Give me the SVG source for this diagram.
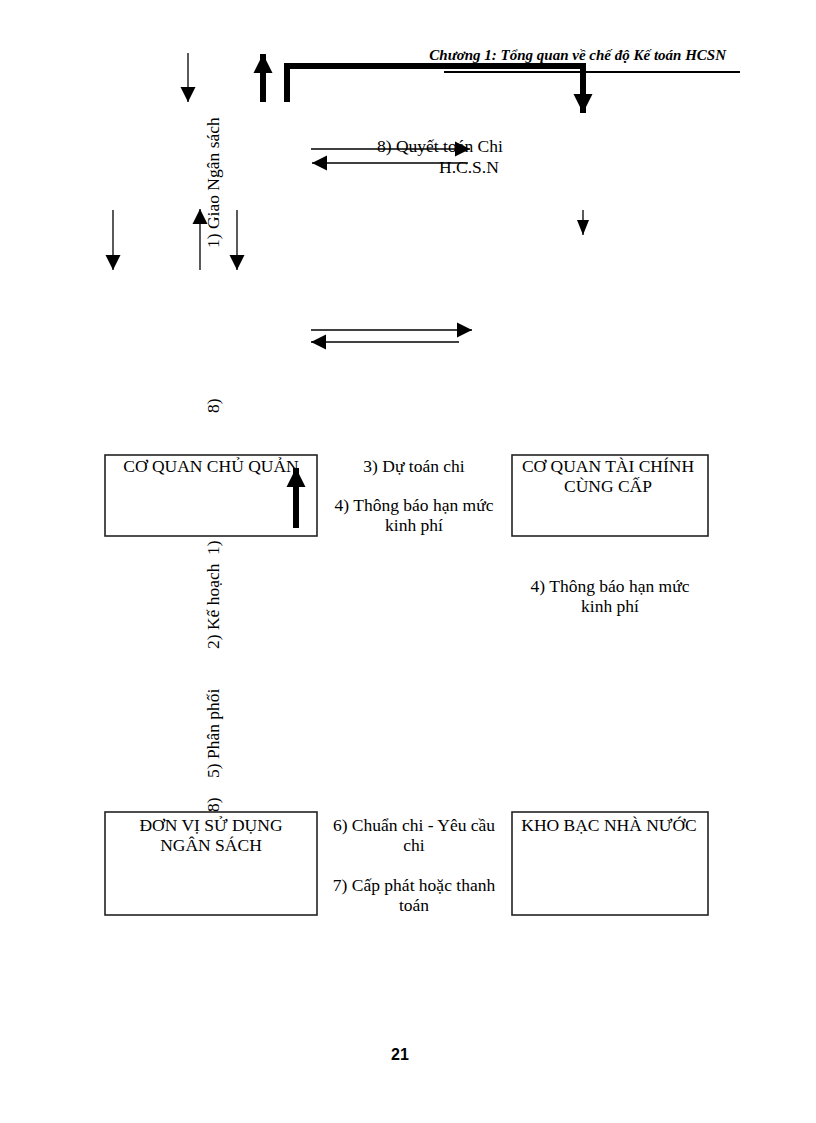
<svg xmlns="http://www.w3.org/2000/svg" width="816" height="1123" viewBox="0 0 816 1123">
<style>
.t{font-family:"Liberation Serif","Times New Roman",serif;font-size:17.5px;fill:#000}
.c{text-anchor:middle}
.hdr{font-family:"Liberation Serif","Times New Roman",serif;font-size:15px;font-weight:bold;font-style:italic;text-anchor:end}
.pg{font-family:"Liberation Sans",Arial,sans-serif;font-size:16px;font-weight:bold;text-anchor:middle}
.box{fill:#fff;stroke:#222;stroke-width:1.6}
.thin{fill:none;stroke:#000;stroke-width:1.3}
.thick{fill:none;stroke:#000;stroke-width:6}
</style>
<defs>
<marker id="ah" markerUnits="userSpaceOnUse" markerWidth="16" markerHeight="16" viewBox="0 0 16 16" refX="15" refY="8" orient="auto">
<path d="M0,0.5 L15,8 L0,15.5 Z" fill="#000"/>
</marker>
<marker id="ahs" markerUnits="userSpaceOnUse" markerWidth="16" markerHeight="14" viewBox="0 0 16 14" refX="15" refY="7" orient="auto">
<path d="M0,1 L15,7 L0,13 Z" fill="#000"/>
</marker>
<marker id="ahb" markerUnits="userSpaceOnUse" markerWidth="20" markerHeight="20" viewBox="0 0 20 20" refX="19" refY="10" orient="auto">
<path d="M0,0.5 L19,10 L0,19.5 Z" fill="#000"/>
</marker>
</defs>
<rect width="816" height="1123" fill="#fff"/>

<g id="header">
<text class="hdr" x="726" y="60">Chương 1: Tổng quan về chế độ Kế toán HCSN</text>
<line x1="444" y1="72" x2="740" y2="72" stroke="#000" stroke-width="2"/>
</g>

<g id="connectors">
<line class="thin" x1="188" y1="53" x2="188" y2="102" marker-end="url(#ah)"/>
<line class="thick" x1="263" y1="102" x2="263" y2="54" marker-end="url(#ahb)"/>
<path class="thick" d="M287,102 V66 H583 V113" marker-end="url(#ahb)"/>
<line class="thin" x1="311" y1="149" x2="470" y2="149" marker-end="url(#ah)"/>
<line class="thin" x1="468" y1="163" x2="312" y2="163" stroke-width="2" marker-end="url(#ah)"/>
<line class="thin" x1="583" y1="210" x2="583" y2="235" stroke-width="2" marker-end="url(#ahs)"/>
<line class="thin" x1="113" y1="210" x2="113" y2="270" stroke-width="1.8" marker-end="url(#ah)"/>
<line class="thin" x1="237" y1="210" x2="237" y2="270" stroke-width="1.8" marker-end="url(#ah)"/>
<line class="thin" x1="200" y1="270" x2="200" y2="209" marker-end="url(#ah)"/>
<line class="thin" x1="311" y1="330" x2="472" y2="330" stroke-width="1.8" marker-end="url(#ah)"/>
<line class="thin" x1="459" y1="342" x2="311" y2="342" stroke-width="1.8" marker-end="url(#ah)"/>
</g>

<g id="labels">
<text class="t" x="377" y="152">8) Quyết toán Chi</text>
<text class="t" x="439" y="173">H.C.S.N</text>
<text class="t" transform="translate(219,248) rotate(-90)">1) Giao Ngân sách</text>
<text class="t" transform="translate(219,413) rotate(-90)">8)</text>
<text class="t" transform="translate(219,649) rotate(-90)">2) Kế hoạch</text>
<text class="t" transform="translate(219,555) rotate(-90)">1)</text>
<text class="t" transform="translate(219,778) rotate(-90)">5) Phân phối</text>
<text class="t" transform="translate(219,812) rotate(-90)">8)</text>
<text class="t c" x="414" y="472">3) Dự toán chi</text>
<text class="t c" x="414" y="511">4) Thông báo hạn mức</text>
<text class="t c" x="414" y="531">kinh phí</text>
<text class="t c" x="610" y="592">4) Thông báo hạn mức</text>
<text class="t c" x="610" y="612">kinh phí</text>
<text class="t c" x="414" y="831">6) Chuẩn chi - Yêu cầu</text>
<text class="t c" x="414" y="851">chi</text>
<text class="t c" x="414" y="891">7) Cấp phát hoặc thanh</text>
<text class="t c" x="414" y="911">toán</text>
</g>

<g id="node-co-quan-chu-quan">
<rect class="box" x="105" y="455" width="212" height="81"/>
<text class="t c" x="211" y="472">CƠ QUAN CHỦ QUẢN</text>
</g>
<g id="arrow-in-box1">
<line class="thick" x1="296" y1="528" x2="296" y2="468" marker-end="url(#ahb)"/>
</g>

<g id="node-co-quan-tai-chinh">
<rect class="box" x="512" y="455" width="196" height="81"/>
<text class="t c" x="608" y="472">CƠ QUAN TÀI CHÍNH</text>
<text class="t c" x="608" y="492">CÙNG CẤP</text>
</g>

<g id="node-don-vi">
<rect class="box" x="105" y="812" width="212" height="103"/>
<text class="t c" x="211" y="831">ĐƠN VỊ SỬ DỤNG</text>
<text class="t c" x="211" y="851">NGÂN SÁCH</text>
</g>

<g id="node-kho-bac">
<rect class="box" x="512" y="812" width="196" height="103"/>
<text class="t c" x="609" y="831">KHO BẠC NHÀ NƯỚC</text>
</g>

<g id="page-number">
<text class="pg" x="400" y="1060">21</text>
</g>
</svg>
